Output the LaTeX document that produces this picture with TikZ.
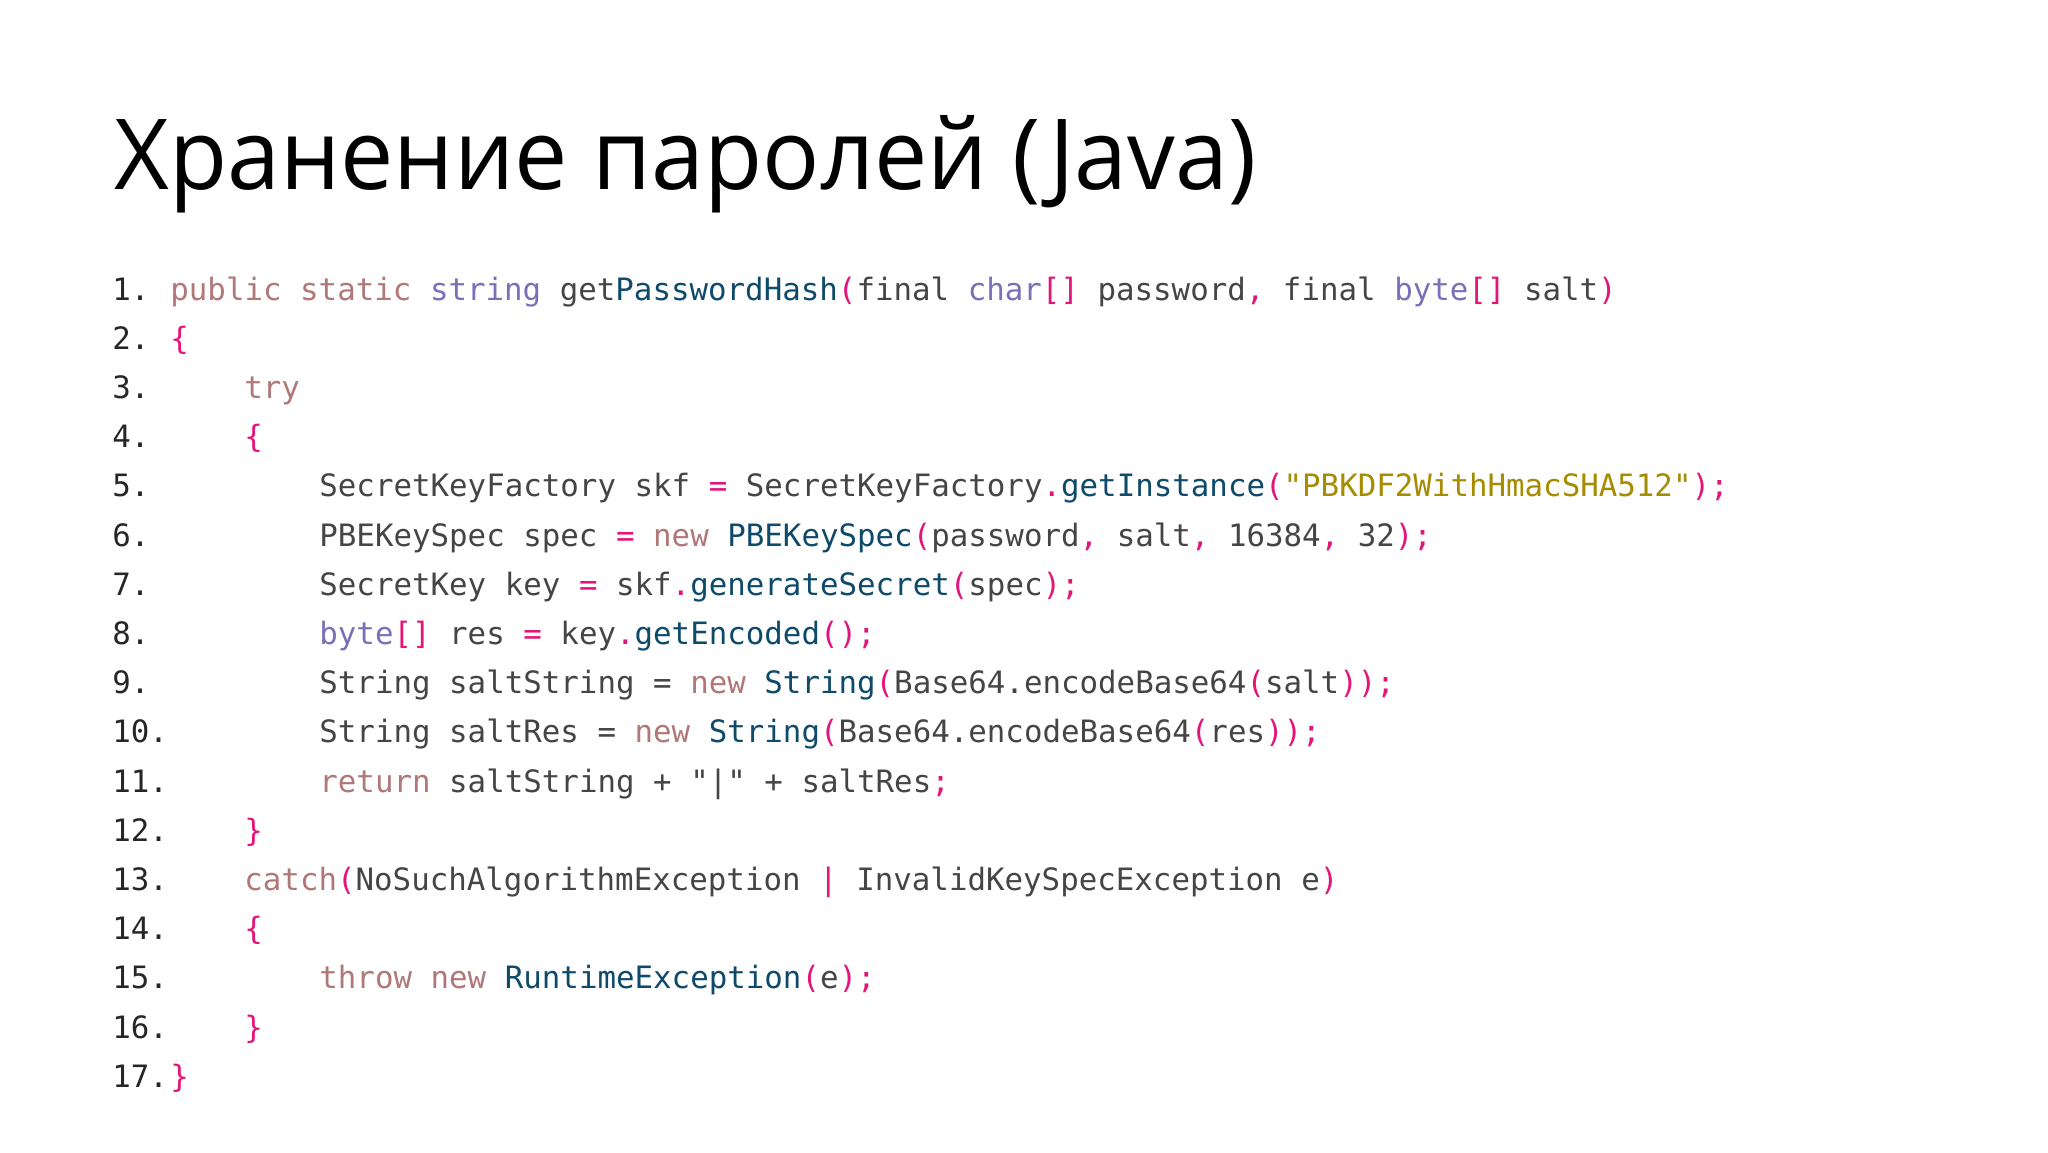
\documentclass[tikz,border=0pt]{standalone}
\usepackage{fontspec}
\setmainfont{Open Sans}
\setmonofont{DejaVu Sans Mono}
\definecolor{kw}{HTML}{B07878}
\definecolor{ty}{HTML}{7A70B8}
\definecolor{fn}{HTML}{0E4A6A}
\definecolor{pu}{HTML}{E3157A}
\definecolor{tx}{HTML}{454545}
\definecolor{st}{HTML}{A58C00}
\newcommand\kw[1]{\textcolor{kw}{#1}}
\newcommand\ty[1]{\textcolor{ty}{#1}}
\newcommand\fn[1]{\textcolor{fn}{#1}}
\newcommand\pu[1]{\textcolor{pu}{#1}}
\newcommand\stc[1]{\textcolor{st}{#1}}
\tikzset{
 code/.style={anchor=base west,inner sep=0pt,font=\ttfamily\fontsize{15.4pt}{18pt}\selectfont,text=tx},
 num/.style={code,text=black!85}
}
\begin{document}
\begin{tikzpicture}[x=0.5pt,y=-0.5pt]
\useasboundingbox[fill=white] (0,0) rectangle (2048,1152);
\node[anchor=base west,inner sep=0pt,font=\fontsize{49pt}{58pt}\selectfont\addfontfeatures{FakeStretch=0.97}] (title) at (114,189) {Хранение паролей (Java)};
\foreach \i in {1,...,17}{\node[num] (n\i) at (112,{300+49.2*(\i-1)}) {\i.};}
\def\L#1{300+49.2*(#1-1)}
\node[code] (c1) at (170,{\L{1}}) {\kw{public static} \ty{string} get\fn{PasswordHash}\pu{(}final \ty{char}\pu{[]} password\pu{,} final \ty{byte}\pu{[]} salt\pu{)}};
\node[code] (c2) at (170,{\L{2}}) {\pu{\{}};
\node[code] (c3) at (244,{\L{3}}) {\kw{try}};
\node[code] (c4) at (244,{\L{4}}) {\pu{\{}};
\node[code] (c5) at (319,{\L{5}}) {SecretKeyFactory skf \pu{=} SecretKeyFactory\pu{.}\fn{getInstance}\pu{(}\stc{"PBKDF2WithHmacSHA512"}\pu{);}};
\node[code] (c6) at (319,{\L{6}}) {PBEKeySpec spec \pu{=} \kw{new} \fn{PBEKeySpec}\pu{(}password\pu{,} salt\pu{,} 16384\pu{,} 32\pu{);}};
\node[code] (c7) at (319,{\L{7}}) {SecretKey key \pu{=} skf\pu{.}\fn{generateSecret}\pu{(}spec\pu{);}};
\node[code] (c8) at (319,{\L{8}}) {\ty{byte}\pu{[]} res \pu{=} key\pu{.}\fn{getEncoded}\pu{();}};
\node[code] (c9) at (319,{\L{9}}) {String saltString = \kw{new} \fn{String}\pu{(}Base64.encodeBase64\pu{(}salt\pu{));}};
\node[code] (c10) at (319,{\L{10}}) {String saltRes = \kw{new} \fn{String}\pu{(}Base64.encodeBase64\pu{(}res\pu{));}};
\node[code] (c11) at (319,{\L{11}}) {\kw{return} saltString + "|" + saltRes\pu{;}};
\node[code] (c12) at (244,{\L{12}}) {\pu{\}}};
\node[code] (c13) at (244,{\L{13}}) {\kw{catch}\pu{(}NoSuchAlgorithmException \pu{|} InvalidKeySpecException e\pu{)}};
\node[code] (c14) at (244,{\L{14}}) {\pu{\{}};
\node[code] (c15) at (319,{\L{15}}) {\kw{throw new} \fn{RuntimeException}\pu{(}e\pu{);}};
\node[code] (c16) at (244,{\L{16}}) {\pu{\}}};
\node[code] (c17) at (170,{\L{17}}) {\pu{\}}};
\end{tikzpicture}
\end{document}
